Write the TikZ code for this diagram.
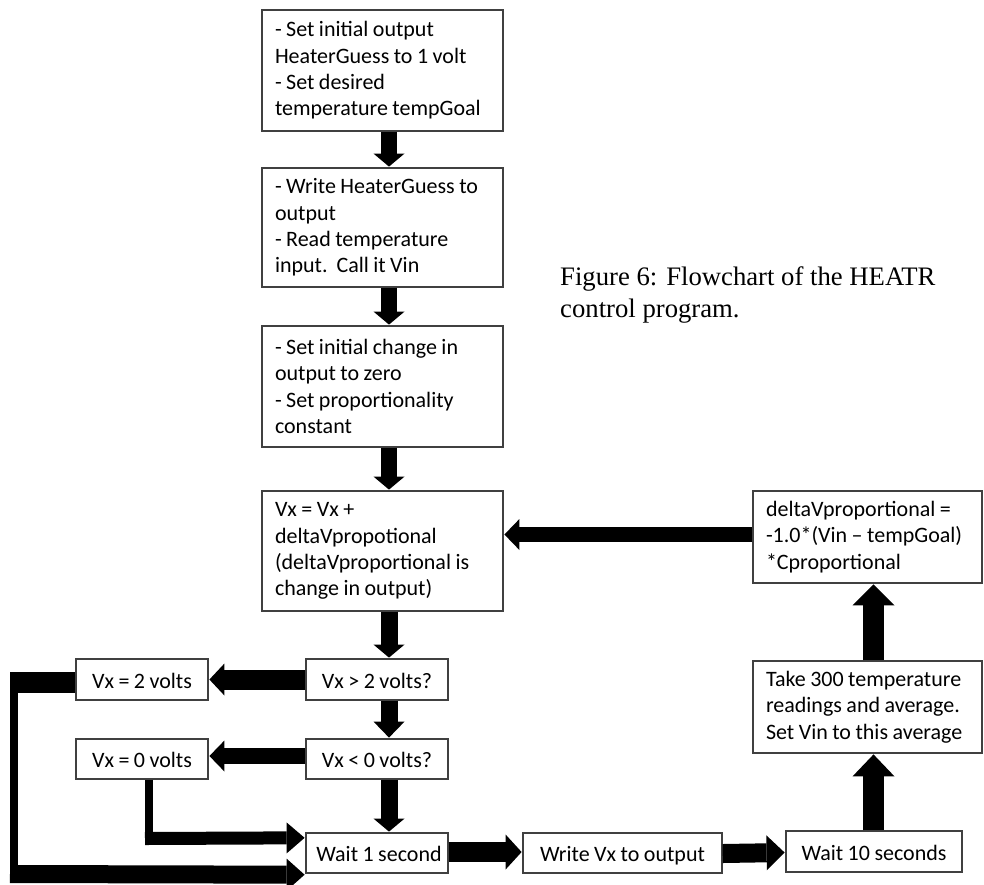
\documentclass[tikz,border=0pt]{standalone}
\usepackage{fontspec}
\setmainfont{Carlito}[WordSpace=0.9]
\newfontfamily\capfamily{Liberation Serif}
\usetikzlibrary{arrows.meta}
\newcommand{\txl}[1]{\mbox{#1}}
\begin{document}
\begin{tikzpicture}[x=1pt,y=-1pt,
  box/.style={draw=black!75, line width=1.4pt, fill=white, inner xsep=13pt, inner ysep=0pt,
    align=flush left, font=\fontsize{22}{26.3}\selectfont},
  sbox/.style={draw=black!75, line width=1.4pt, fill=white, inner xsep=0pt, inner ysep=0pt,
    align=center, text height=17pt, text depth=0pt, font=\fontsize{22}{26.3}\selectfont},
  arr/.style n args={4}{draw=black, line width=#1,
    -{Triangle[width=#2,length=#3,line width=0pt]}, shorten >=#4},
  seg/.style={draw=black, line width=#1},
]
\useasboundingbox (0,0) rectangle (984,884);

% main column
\node[box, text width=215pt, minimum height=121pt] (b1) at (382.5,70.5)
  {\txl{- Set initial output}\\\txl{HeaterGuess to 1 volt}\\\txl{- Set desired}\\\txl{temperature tempGoal}};
\node[box, text width=215pt, minimum height=119pt] (b2) at (382.5,227.5)
  {\txl{- Write HeaterGuess to}\\\txl{output}\\\txl{- Read temperature}\\\txl{input.\ \ Call it Vin}};
\node[box, text width=215pt, minimum height=121pt] (b3) at (382.5,386.5)
  {\txl{- Set initial change in}\\\txl{output to zero}\\\txl{- Set proportionality}\\\txl{constant}};
\node[box, text width=215pt, minimum height=120pt] (b4) at (382.5,551)
  {\txl{Vx = Vx +}\\\txl{deltaVpropotional}\\\txl{(deltaVproportional is}\\\txl{change in output)}};

\node[sbox, minimum width=142pt, minimum height=41pt] (gt2) at (377,679.5) {Vx > 2 volts?};
\node[sbox, minimum width=132pt, minimum height=41pt] (eq2) at (142,679.5) {Vx = 2 volts};
\node[sbox, minimum width=142pt, minimum height=40pt] (lt0) at (377,759) {Vx < 0 volts?};
\node[sbox, minimum width=132pt, minimum height=40pt] (eq0) at (142,759) {Vx = 0 volts};
\node[sbox, minimum width=142pt, minimum height=40pt] (w1) at (377,853) {\hspace*{4pt}Wait 1 second};
\node[sbox, minimum width=199pt, minimum height=40pt] (wv) at (622.5,853) {Write Vx to output};
\node[sbox, minimum width=176pt, minimum height=41pt] (w10) at (874,851.5) {Wait 10 seconds};

\node[box, inner xsep=13pt, text width=203pt, minimum height=92pt] (take) at (867.5,707)
  {\txl{Take 300 temperature}\\\txl{readings and average.}\\\txl{Set Vin to this average}};
\node[box, inner xsep=13pt, text width=203pt, minimum height=92pt] (dv) at (867.5,537)
  {\txl{deltaVproportional =}\\\txl{-1.0*(Vin -- tempGoal)}\\\txl{*Cproportional}};

% caption
\node[anchor=base west, align=left, inner sep=0pt,
  font=\capfamily\fontsize{26.7}{32}\selectfont] (cap) at (560,317)
  {Figure 6: Flowchart of the HEATR\\control program.};

% helper coordinates
\coordinate (cx) at (389,0);
\coordinate (ax) at (873.5,0);

% vertical arrows of main column
\draw[arr={16pt}{31pt}{13pt}{0.7pt}] (b1.south -| cx) -- (b2.north -| cx);
\draw[arr={16pt}{31pt}{13pt}{0.7pt}] (b2.south -| cx) -- (b3.north -| cx);
\draw[arr={16pt}{31pt}{13pt}{0.7pt}] (b3.south -| cx) -- (b4.north -| cx);
\draw[arr={17pt}{31pt}{13pt}{0.7pt}] (b4.south -| cx) -- (gt2.north -| cx);
\draw[arr={17pt}{31pt}{16pt}{0.7pt}] (gt2.south -| cx) -- (lt0.north -| cx);
\draw[arr={17pt}{31pt}{13pt}{0.7pt}] (lt0.south -| cx) -- (w1.north -| cx);

% left branches
\draw[arr={20pt}{32pt}{15pt}{0.7pt}] (gt2.west) -- (eq2.east);
\draw[arr={16pt}{31pt}{15pt}{0.7pt}] ([yshift=3pt]lt0.west) -- ([yshift=3pt]eq0.east);

% loop from Vx = 2 volts back to Wait 1 second
\coordinate (la) at (10,682.5);
\coordinate (lb) at (14,672);
\coordinate (lc) at (14,883);
\coordinate (ld) at (10,874);
\draw[seg=21pt] ([yshift=-3pt]eq2.west) -- (la);
\draw[seg=8pt] (lb) -- (lc);
\draw[arr={18pt}{32pt}{18pt}{0.7pt}] (ld) -- ([yshift=-1pt]w1.south west);

% from Vx = 0 volts to Wait 1 second
\coordinate (me) at (149,845);
\coordinate (mf) at (145,838.5);
\draw[seg=8pt] ([xshift=7pt]eq0.south) -- (me);
\draw[arr={13pt}{31pt}{18pt}{0.7pt}] (mf) -- ([yshift=-5.5pt]w1.north west);

% bottom row
\draw[arr={20pt}{35pt}{16pt}{0.7pt}] ([yshift=1pt]w1.east) -- ([yshift=1pt]wv.west);
\draw[arr={19pt}{35pt}{18pt}{0.7pt}] ([yshift=-0.5pt]wv.west -| wv.east) -- ([yshift=-1pt]w10.west);

% right column up
\draw[arr={21pt}{42pt}{22pt}{0.7pt}] (w10.north -| ax) -- (take.south -| ax);
\draw[arr={21pt}{42pt}{21pt}{0.7pt}] (take.north -| ax) -- (dv.south -| ax);

% feedback to main column
\draw[arr={15pt}{31pt}{15pt}{0.7pt}] ([yshift=2.5pt]dv.west) -- ([yshift=2.5pt]dv.west -| b4.east);
\end{tikzpicture}
\end{document}
